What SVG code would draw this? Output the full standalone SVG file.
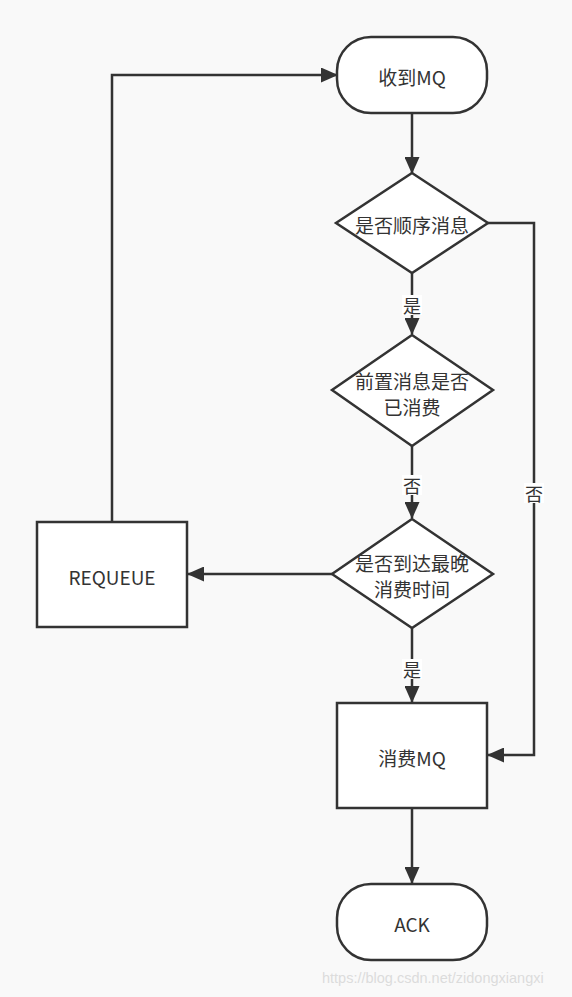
<svg xmlns="http://www.w3.org/2000/svg" width="572" height="997" viewBox="0 0 572 997">
<style>
.node{fill:#ffffff;stroke:#333333;stroke-width:2.5}
.t{font-family:"Noto Sans CJK SC","Noto Sans",sans-serif;font-size:19px;fill:#333333;text-anchor:middle;dominant-baseline:central}
.e{fill:none;stroke:#333333;stroke-width:2.5}
.lbl{font-family:"Noto Sans CJK SC",sans-serif;font-size:18px;fill:#333333;text-anchor:middle;dominant-baseline:central}
.lb{fill:#ffffff}
</style>
<defs>
<marker id="ah" markerWidth="17" markerHeight="15" refX="16" refY="7.5" orient="auto" markerUnits="userSpaceOnUse">
<path d="M0,0 L17,7.5 L0,15 Z" fill="#333333"/>
</marker>
</defs>
<rect width="572" height="997" fill="#f9f9f9"/>
<g id="connectors">
<path class="e" d="M412,113 V173" marker-end="url(#ah)"/>
<path class="e" d="M412,273 V334" marker-end="url(#ah)"/>
<path class="e" d="M412,446 V518" marker-end="url(#ah)"/>
<path class="e" d="M412,628 V702" marker-end="url(#ah)"/>
<path class="e" d="M412,808 V883" marker-end="url(#ah)"/>
<path class="e" d="M488,223 H534 V755 H488" marker-end="url(#ah)"/>
<path class="e" d="M332,574 H188" marker-end="url(#ah)"/>
<path class="e" d="M112,521 V75 H337" marker-end="url(#ah)"/>
<g id="edge-labels">
<rect class="lb" x="402" y="295" width="20" height="20"/>
<text class="lbl" x="412" y="305">是</text>
<rect class="lb" x="402" y="475" width="20" height="20"/>
<text class="lbl" x="412" y="485">否</text>
<rect class="lb" x="402" y="659" width="20" height="20"/>
<text class="lbl" x="412" y="669">是</text>
<rect class="lb" x="524" y="483" width="20" height="20"/>
<text class="lbl" x="534" y="493">否</text>
</g>
</g>
<g id="start">
<rect class="node" x="337" y="37" width="150" height="76" rx="34" ry="34"/>
<text class="t" x="412" y="76">收到MQ</text>
</g>
<g id="d1">
<path class="node" d="M412,173 L488,223 L412,273 L336,223 Z"/>
<text class="t" x="412" y="224">是否顺序消息</text>
</g>
<g id="d2">
<path class="node" d="M412,335 L493,390 L412,446 L332,390 Z"/>
<text class="t" x="412" y="380">前置消息是否</text>
<text class="t" x="412" y="406">已消费</text>
</g>
<g id="d3">
<path class="node" d="M412,519 L493,574 L412,628 L332,574 Z"/>
<text class="t" x="412" y="562">是否到达最晚</text>
<text class="t" x="412" y="588">消费时间</text>
</g>
<g id="requeue">
<rect class="node" x="37" y="522" width="150" height="105"/>
<text class="t" x="112" y="576">REQUEUE</text>
</g>
<g id="consume">
<rect class="node" x="337" y="703" width="150" height="105"/>
<text class="t" x="412" y="757">消费MQ</text>
</g>
<g id="ack">
<rect class="node" x="337" y="884" width="150" height="76" rx="34" ry="34"/>
<text class="t" x="412" y="923">ACK</text>
</g>
<text x="322" y="983" font-family="Liberation Sans,Arial,sans-serif" font-size="14.5" fill="#dcdcdc">https://blog.csdn.net/zidongxiangxi</text>
</svg>
